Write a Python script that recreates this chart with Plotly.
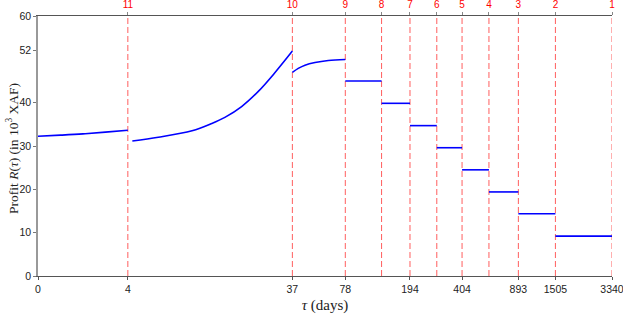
import numpy as np
import plotly.graph_objects as go

# ---- data ----
boundaries = [4, 37, 78, 130, 194, 283, 404, 590, 893, 1505, 3340]
top_labels = ["11", "10", "9", "8", "7", "6", "5", "4", "3", "2", "1"]
bottom_ticks = [0, 4, 37, 78, 194, 404, 893, 1505, 3340]
y_ticks = [0, 10, 20, 30, 40, 52, 60]

seg0_tau = [0, 1, 2, 3, 4]
seg0_val = [32.24, 32.5, 32.8, 33.2, 33.62]
seg1_tau = [4.2, 5.6, 9.0, 11.9, 14.3, 18.1, 22.9, 28.9, 37]
seg1_val = [31.15, 32.0, 33.5, 35.2, 36.6, 39.1, 42.6, 46.9, 51.9]
seg2_tau = [37, 40.2, 44.2, 50.9, 61.4, 78]
seg2_val = [46.97, 47.9, 48.65, 49.27, 49.73, 49.96]
step_start = [78, 130, 194, 283, 404, 590, 893, 1505]
step_end = [130, 194, 283, 404, 590, 893, 1505, 3340]
step_val = [45.0, 39.85, 34.7, 29.6, 24.5, 19.4, 14.35, 9.2]

# symlog-type axis transform (linthresh 5, natural base, linscale 1)
LT = 5.0
A = 1.0 / (1.0 - 1.0 / np.e)


def tr(t):
    t = np.asarray(t, dtype=float)
    return np.where(t <= LT, t / LT * A, A + np.log(np.maximum(t, LT) / LT))


fig = go.Figure()
blue = dict(color="#0000ff", width=1.6)
red_dash = dict(color="rgba(255,40,40,0.75)", width=1, dash="6px,3px")

for b in boundaries:
    fig.add_trace(go.Scatter(x=tr([b, b]), y=[0, 60], mode="lines", line=red_dash,
                             hoverinfo="skip", showlegend=False))

for tx, vy in [(seg0_tau, seg0_val), (seg1_tau, seg1_val), (seg2_tau, seg2_val)]:
    fig.add_trace(go.Scatter(x=tr(tx), y=vy, mode="lines",
                             line=dict(blue, shape="spline", smoothing=1.0), showlegend=False))

for s, e, v in zip(step_start, step_end, step_val):
    fig.add_trace(go.Scatter(x=tr([s, e]), y=[v, v], mode="lines", line=blue, showlegend=False))

# dummy trace for top axis
fig.add_trace(go.Scatter(x=tr([0, 3340]), y=[None, None], xaxis="x2", showlegend=False,
                         hoverinfo="skip"))

xr = [0, float(tr(3340))]
tickfont = dict(family="Liberation Sans, Arial, sans-serif", size=10.5, color="#222")
serif = "Liberation Serif, DejaVu Serif, serif"
fig.update_layout(
    width=623, height=314,
    margin=dict(l=38, r=11, t=16, b=38),
    plot_bgcolor="white", paper_bgcolor="white",
    xaxis=dict(range=xr, tickvals=tr(bottom_ticks), ticktext=[str(t) for t in bottom_ticks],
               automargin=False, ticklabeloverflow="allow",
               showgrid=False, zeroline=False, showline=True, linecolor="#555", linewidth=1,
               ticks="outside", ticklen=3, tickcolor="#555", tickfont=tickfont,
               title=dict(text="<i>τ</i> (days)", standoff=6,
                          font=dict(family=serif, size=15, color="#222"))),
    xaxis2=dict(range=xr, overlaying="x", side="top", tickvals=tr(boundaries), ticktext=top_labels,
                automargin=False, ticklabeloverflow="allow",
                showgrid=False, zeroline=False, showline=True, linecolor="#555", linewidth=1,
                ticks="outside", ticklen=3, tickcolor="#888",
                tickfont=dict(family="Liberation Sans, Arial, sans-serif", size=10, color="red")),
    yaxis=dict(range=[0, 60], tickvals=y_ticks, showgrid=False, zeroline=False, showline=True,
               automargin=False,
               linecolor="#999", linewidth=1.5, ticks="outside", ticklen=3, tickcolor="#777",
               tickfont=tickfont),
    annotations=[dict(text="Profit <i>R</i>(<i>τ</i>) (in 10<sup>3</sup> XAF)", textangle=-90,
                      xref="paper", yref="paper", x=-26 / 574, y=(276 - 149) / 260,
                      xanchor="center", yanchor="middle", showarrow=False,
                      font=dict(family=serif, size=13.5, color="#222"))],
)

fig.write_html("out.html", config={"displayModeBar": False})

# remove the default page margin so the figure sits at the window's corner
with open("out.html", "r", encoding="utf-8") as f:
    html = f.read()
html = html.replace("<head>", "<head><style>html,body{margin:0;padding:0;overflow:hidden;}</style>", 1)
with open("out.html", "w", encoding="utf-8") as f:
    f.write(html)
